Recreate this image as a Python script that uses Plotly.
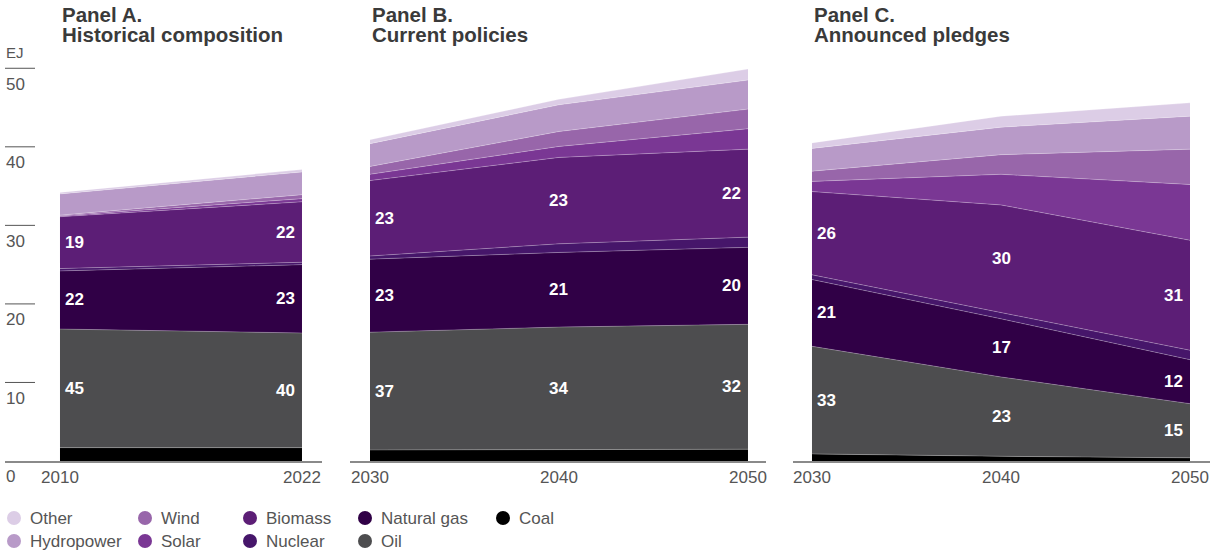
import plotly.graph_objects as go

W, H = 1210, 550

series = ["Coal", "Oil", "Natural gas", "Nuclear", "Biomass", "Solar", "Wind", "Hydropower", "Other"]
colors = {
    "Other": "#dccde6", "Hydropower": "#b89ac8", "Wind": "#9866aa", "Solar": "#7a3794",
    "Biomass": "#5c1e76", "Nuclear": "#46166a", "Natural gas": "#300046",
    "Oil": "#4d4d4f", "Coal": "#000000",
}

years_a = [2010, 2022]
years_bc = [2030, 2040, 2050]

# Panel A: historical (EJ)
a_coal = [1.7, 1.7]
a_oil = [15.1, 14.6]
a_gas = [7.4, 8.7]
a_nuclear = [0.3, 0.3]
a_biomass = [6.6, 7.7]
a_solar = [0.1, 0.4]
a_wind = [0.1, 0.5]
a_hydro = [2.7, 2.9]
a_other = [0.2, 0.3]

# Panel B: current policies (EJ)
b_coal = [1.4, 1.45, 1.5]
b_oil = [15.0, 15.6, 15.9]
b_gas = [9.3, 9.5, 9.8]
b_nuclear = [0.4, 1.1, 1.3]
b_biomass = [9.6, 11.0, 11.2]
b_solar = [0.8, 1.4, 2.6]
b_wind = [1.0, 1.9, 2.5]
b_hydro = [2.9, 3.4, 3.7]
b_other = [0.5, 0.7, 1.4]

# Panel C: announced pledges (EJ)
c_coal = [0.9, 0.6, 0.4]
c_oil = [13.7, 10.1, 6.9]
c_gas = [8.5, 7.4, 5.6]
c_nuclear = [0.6, 0.8, 1.2]
c_biomass = [10.6, 13.7, 14.0]
c_solar = [1.3, 3.9, 7.1]
c_wind = [1.3, 2.5, 4.5]
c_hydro = [2.9, 3.5, 4.2]
c_other = [0.7, 1.4, 1.7]

# Share labels (%)
a_labels = {"Oil": [45, 40], "Natural gas": [22, 23], "Biomass": [19, 22]}
b_labels = {"Oil": [37, 34, 32], "Natural gas": [23, 21, 20], "Biomass": [23, 23, 22]}
c_labels = {"Oil": [33, 23, 15], "Natural gas": [21, 17, 12], "Biomass": [26, 30, 31]}

titles = [("Panel A.", "Historical composition"), ("Panel B.", "Current policies"), ("Panel C.", "Announced pledges")]
y_ticks = [10, 20, 30, 40, 50]
y_tick_labels = ["10", "20", "30", "40", "50"]

panels = [
    (years_a, dict(zip(series, [a_coal, a_oil, a_gas, a_nuclear, a_biomass, a_solar, a_wind, a_hydro, a_other])), a_labels),
    (years_bc, dict(zip(series, [b_coal, b_oil, b_gas, b_nuclear, b_biomass, b_solar, b_wind, b_hydro, b_other])), b_labels),
    (years_bc, dict(zip(series, [c_coal, c_oil, c_gas, c_nuclear, c_biomass, c_solar, c_wind, c_hydro, c_other])), c_labels),
]

# layout geometry (pixels)
x_domains_px = [(5, 322), (350, 766), (793, 1210)]
x_ranges = [(2007.273, 2022.992), (2028.942, 2050.953), (2028.995, 2051.058)]
y_dom = (1 - 461 / H, 1 - 40 / H)
y_range = (0, 53.6)
title_x_px = [60, 370, 812]

FONT = "Liberation Sans, Arial, sans-serif"
fig = go.Figure()
annotations = []
shapes = []

for i, (years, data, labels) in enumerate(panels):
    xa = "x" if i == 0 else f"x{i+1}"
    ya = "y" if i == 0 else f"y{i+1}"
    for s in series:
        fig.add_trace(go.Scatter(
            x=years, y=data[s], name=s, mode="lines", stackgroup=f"g{i}",
            line=dict(width=0.7, color="rgba(255,255,255,0.35)"),
            fillcolor=colors[s], showlegend=False, xaxis=xa, yaxis=ya,
            hoverinfo="x+y+name",
        ))
    # labels at band middles
    cum = [0.0] * len(years)
    mids = {}
    for s in series:
        vals = data[s]
        mids[s] = [cum[k] + vals[k] / 2 for k in range(len(years))]
        cum = [cum[k] + vals[k] for k in range(len(years))]
    for s, labs in labels.items():
        for k, yr in enumerate(years):
            if k == 0:
                xanchor, xshift = "left", 3
            elif k == len(years) - 1:
                xanchor, xshift = "right", -5
            else:
                xanchor, xshift = "center", 0
            annotations.append(dict(
                x=yr, y=mids[s][k], xref=xa, yref=ya, text=f"<b>{labs[k]}</b>",
                showarrow=False, xanchor=xanchor, yanchor="middle", xshift=xshift,
                font=dict(family=FONT, size=17, color="white"),
            ))
    # titles
    t1, t2 = titles[i]
    for j, t in enumerate((t1, t2)):
        annotations.append(dict(
            x=title_x_px[i] / W, y=1 - (15 + 20 * j) / H, xref="paper", yref="paper",
            text=f"<b>{t}</b>", showarrow=False, xanchor="left", yanchor="middle",
            font=dict(family=FONT, size=20.5, color="#3a3a3a"),
        ))

layout = dict(
    width=W, height=H, margin=dict(l=0, r=0, t=0, b=0),
    paper_bgcolor="white", plot_bgcolor="white", showlegend=False,
)
for i in range(3):
    xk = "xaxis" if i == 0 else f"xaxis{i+1}"
    yk = "yaxis" if i == 0 else f"yaxis{i+1}"
    years = panels[i][0]
    layout[xk] = dict(
        domain=[x_domains_px[i][0] / W, x_domains_px[i][1] / W], range=list(x_ranges[i]),
        anchor="y" if i == 0 else f"y{i+1}", tickmode="array", tickvals=years,
        ticktext=[str(y) for y in years], showgrid=False, zeroline=False,
        showline=True, linecolor="#8a8a8a", linewidth=1.5, ticks="",
        tickfont=dict(family=FONT, size=17, color="#555555"),
    )
    layout[yk] = dict(
        domain=list(y_dom), range=list(y_range), anchor="x" if i == 0 else f"x{i+1}",
        showgrid=False, zeroline=False, showticklabels=False, showline=False,
    )

# y-axis ticks (short lines, labels below)
for v, lab in zip(y_ticks, y_tick_labels):
    shapes.append(dict(type="line", xref="paper", yref="y", x0=5 / W, x1=35 / W, y0=v, y1=v,
                       line=dict(color="#555555", width=1)))
    annotations.append(dict(x=4 / W, y=v, xref="paper", yref="y", text=lab, showarrow=False,
                            xanchor="left", yanchor="middle", yshift=-16,
                            font=dict(family=FONT, size=17, color="#555555")))
annotations.append(dict(x=4 / W, y=0, xref="paper", yref="y", text="0", showarrow=False,
                        xanchor="left", yanchor="middle", yshift=-15,
                        font=dict(family=FONT, size=17, color="#555555")))
annotations.append(dict(x=4 / W, y=50, xref="paper", yref="y", text="EJ", showarrow=False,
                        xanchor="left", yanchor="middle", yshift=16,
                        font=dict(family=FONT, size=15, color="#555555")))

# legend (column-major, 2 rows)
legend_order = ["Other", "Hydropower", "Wind", "Solar", "Biomass", "Nuclear", "Natural gas", "Oil", "Coal"]
col_x = [14, 145, 250, 365, 503]
row_y = [518, 541]
for idx, name in enumerate(legend_order):
    col, row = idx // 2, idx % 2
    cx, cy = col_x[col], row_y[row]
    r = 7
    shapes.append(dict(type="circle", xref="paper", yref="paper",
                       x0=(cx - r) / W, x1=(cx + r) / W, y0=1 - (cy + r) / H, y1=1 - (cy - r) / H,
                       fillcolor=colors[name], line=dict(width=0)))
    annotations.append(dict(x=(cx + 14) / W, y=1 - cy / H, xref="paper", yref="paper", text=name,
                            showarrow=False, xanchor="left", yanchor="middle",
                            font=dict(family=FONT, size=17, color="#555555")))

layout["annotations"] = annotations
layout["shapes"] = shapes
fig.update_layout(**layout)
fig.write_html("out.html", config={"displayModeBar": False},
               post_script="document.body.style.margin='0';document.body.style.overflow='hidden';")
